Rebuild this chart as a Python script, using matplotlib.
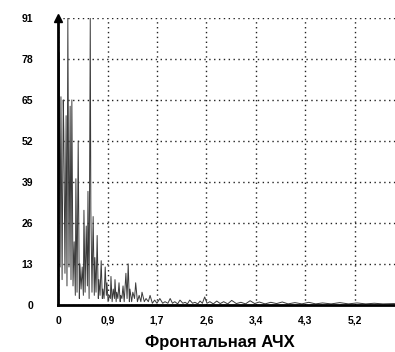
import numpy as np
import matplotlib
matplotlib.use("Agg")
import matplotlib.pyplot as plt

# spectrum (frequency, amplitude)
freq = [0.0, 0.02, 0.035, 0.05, 0.07, 0.09, 0.10, 0.12, 0.14, 0.155, 0.17, 0.19, 0.21, 0.225,
        0.24, 0.26, 0.28, 0.30, 0.31, 0.33, 0.35, 0.37, 0.38, 0.40, 0.42, 0.44, 0.45, 0.47,
        0.49, 0.51, 0.52, 0.54, 0.56, 0.57, 0.59, 0.61, 0.63, 0.64, 0.66, 0.68, 0.70, 0.71,
        0.73, 0.75, 0.77, 0.78, 0.80, 0.82, 0.84, 0.85, 0.87, 0.89, 0.91, 0.92, 0.94, 0.96,
        0.98, 0.99, 1.01, 1.02, 1.04, 1.06, 1.08, 1.09, 1.11, 1.13, 1.15, 1.18, 1.20, 1.22,
        1.24, 1.25, 1.28, 1.30, 1.33, 1.35, 1.38, 1.41, 1.44, 1.46, 1.50, 1.53, 1.57, 1.60,
        1.64, 1.68, 1.72, 1.77, 1.82, 1.86, 1.91, 1.95, 1.99, 2.03, 2.08, 2.12, 2.17, 2.21,
        2.25, 2.29, 2.34, 2.38, 2.43, 2.47, 2.51, 2.55, 2.59, 2.64, 2.70, 2.76, 2.82, 2.88,
        2.95, 3.02, 3.10, 3.18, 3.26, 3.34, 3.42, 3.50, 3.60, 3.70, 3.80, 3.90, 4.00, 4.12,
        4.24, 4.36, 4.48, 4.60, 4.75, 4.90, 5.05, 5.20, 5.35, 5.50, 5.65, 5.85]
amp = [2, 80, 12, 66, 8, 65, 55, 10, 60, 6, 91, 12, 63, 8,
       65, 6, 20, 3, 40, 4, 52, 2, 13, 5, 12, 3, 30, 4,
       25, 6, 36, 2, 91, 30, 4, 28, 3, 15, 4, 22, 2, 8,
       3, 14, 2, 5, 2, 12, 3, 7, 1, 3, 2, 9, 1, 5,
       2, 8, 1, 4, 2, 7, 1, 3, 2, 6, 1, 10, 2, 13,
       1, 5, 1, 4, 2, 7, 1, 3, 1, 4, 1, 2, 1, 3,
       0.5, 1.5, 0.5, 2, 0.5, 1, 0.5, 2, 0.5, 1, 0.3, 1.5, 0.5, 0.8,
       0.3, 1.5, 0.5, 0.8, 0.3, 1.2, 0.5, 2.5, 0.5, 1, 0.3, 1.2, 0.4, 1,
       0.3, 1.4, 0.4, 0.8, 0.3, 1.3, 0.4, 0.9, 0.3, 0.8, 0.4, 0.9, 0.3, 0.7,
       0.3, 0.8, 0.3, 0.6, 0.3, 0.7, 0.3, 0.6, 0.3, 0.5, 0.3, 0.4]

xticks = [0, 0.86, 1.72, 2.58, 3.44, 4.30, 5.16]
xticklabels = ["0", "0,9", "1,7", "2,6", "3,4", "4,3", "5,2"]
yticks = [0, 13, 26, 39, 52, 65, 78, 91]

plt.rcParams['font.family'] = ['Liberation Sans', 'DejaVu Sans']

fig = plt.figure(figsize=(3.95, 3.52), dpi=100)
ax = fig.add_axes([0.147, 0.134, 0.853, 0.815])

ax.plot(freq, amp, color="#3a3a3a", lw=0.7)

ax.set_xlim(0, 5.86)
ax.set_ylim(0, 91)
ax.set_xticks(xticks)
ax.set_xticklabels(xticklabels)
ax.set_yticks(yticks)
ax.tick_params(axis="both", length=0, labelsize=7.5)
ax.tick_params(axis="y", pad=18)
ax.tick_params(axis="x", pad=8)
for lab in ax.get_xticklabels() + ax.get_yticklabels():
    lab.set_fontweight("bold")

ax.grid(True, color="#222222", linestyle=(0, (1, 2.5)), lw=1.0)
ax.spines["top"].set_visible(False)
ax.spines["right"].set_visible(False)
ax.spines["left"].set_linewidth(2)
ax.spines["bottom"].set_linewidth(2)

# arrow on the y axis
ax.plot([0], [91], marker="^", color="black", markersize=6, clip_on=False)

ax.set_xlabel("Фронтальная АЧХ", fontsize=12, fontweight="bold")
ax.xaxis.set_label_coords(0.48, -0.105)

fig.savefig("out.png", dpi=100)
